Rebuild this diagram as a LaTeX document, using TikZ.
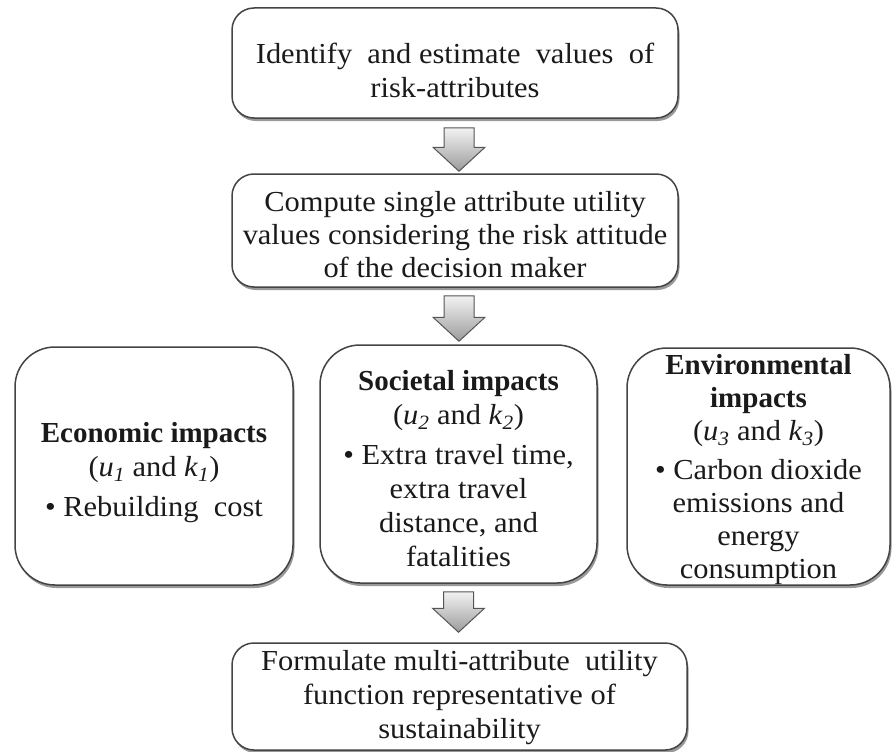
\documentclass[tikz,border=0pt]{standalone}
\usepackage{fontspec}
\setmainfont{Liberation Serif}[FakeStretch=1.05, BoldFeatures={FakeStretch=1.0}]
\usetikzlibrary{shadows,calc}

\definecolor{boxline}{HTML}{444444}
\definecolor{textcol}{HTML}{1A1A1A}
\definecolor{arrowtop}{HTML}{F2F2F2}
\definecolor{arrowbottom}{HTML}{9C9C9C}
\definecolor{arrowline}{HTML}{555555}

% subscripted italic symbol, e.g. u_1
\newcommand\isub[2]{\textit{#1}\textsubscript{\textit{#2}}}

% downward block arrow from a start point to a tip point
\newcommand\blockdown[2]{%
  \path[arrowbody] let \p1=(#1), \p2=(#2) in
    (\x1-15pt,\y1) -- (\x1+15pt,\y1) -- (\x1+15pt,\y2+24pt)
    -- (\x1+26pt,\y2+24pt) -- (\x1,\y2) -- (\x1-26pt,\y2+24pt)
    -- (\x1-15pt,\y2+24pt) -- cycle;}

\begin{document}
\begin{tikzpicture}[
  x=1pt, y=-1pt,
  stepbox/.style={draw=boxline, line width=1.5pt, fill=white,
    rounded corners=22pt, inner sep=0pt,
    drop shadow={shadow xshift=1.5pt, shadow yshift=-3pt, opacity=0.4, fill=black}},
  impactbox/.style={stepbox, rounded corners=40pt},
  boxtext/.style={align=center, inner sep=0pt, text=textcol,
    font=\fontsize{29}{34}\selectfont},
  arrowbody/.style={draw=arrowline, line width=1pt, top color=arrowtop,
    bottom color=arrowbottom, line join=miter}
]
\path[use as bounding box, fill=white] (0,0) rectangle (894,752);

% step boxes
\node[stepbox, minimum width=446pt, minimum height=110pt] (b1) at (455,63) {};
\node[stepbox, minimum width=446pt, minimum height=113pt] (b2) at (455,230.5) {};
\node[impactbox, minimum width=278pt, minimum height=238pt] (eco) at (154,466) {};
\node[impactbox, minimum width=277pt, minimum height=238pt] (soc) at (458.5,464) {};
\node[impactbox, minimum width=263pt, minimum height=237pt] (env) at (758.5,466.5) {};
\node[stepbox, minimum width=455pt, minimum height=107pt] (b3) at (459.5,696.5) {};

% box texts
\node[boxtext] (t1) at ($(b1)+(0,7)$)
  {Identify \ and estimate \ values \ of\\ risk-attributes};
\node[boxtext, font=\fontsize{29}{33}\selectfont] (t2) at ($(b2)+(0,4)$)
  {Compute single attribute utility\\ values considering the risk attitude\\ of the decision maker};
\node[boxtext] (teco) at ($(eco)+(0,7)$)
  {{\bfseries Economic impacts}\\ (\isub{u}{1} and \isub{k}{1})\\[6pt]
   \textbullet\ Rebuilding\ \ cost};
\node[boxtext] (tsoc) at ($(soc)+(0,5)$)
  {{\bfseries Societal impacts}\\ (\isub{u}{2} and \isub{k}{2})\\[6pt]
   \textbullet\ Extra travel time,\\ extra travel\\ distance, and\\ fatalities};
\node[boxtext, font=\fontsize{29}{33}\selectfont] (tenv) at ($(env)+(0,3)$)
  {{\bfseries Environmental}\\ {\bfseries impacts}\\ (\isub{u}{3} and \isub{k}{3})\\[6pt]
   \textbullet\ Carbon dioxide\\ emissions and\\ energy\\ consumption};
\node[boxtext] (t3) at ($(b3)+(0,1)$)
  {Formulate multi-attribute\ \ utility\\ function representative of\\ sustainability};

% block arrows between the steps
\coordinate (a1s) at ($(b1.south)+(4,9)$);
\coordinate (a1e) at ($(b2.north)+(4,-2)$);
\coordinate (a2s) at ($(b2.south)+(4,8)$);
\coordinate (a2e) at ($(soc.north)+(0,-3)$);
\coordinate (a3s) at ($(soc.south)+(0,8)$);
\coordinate (a3e) at ($(b3.north)+(0,-10)$);
\blockdown{a1s}{a1e}
\blockdown{a2s}{a2e}
\blockdown{a3s}{a3e}
\end{tikzpicture}
\end{document}
